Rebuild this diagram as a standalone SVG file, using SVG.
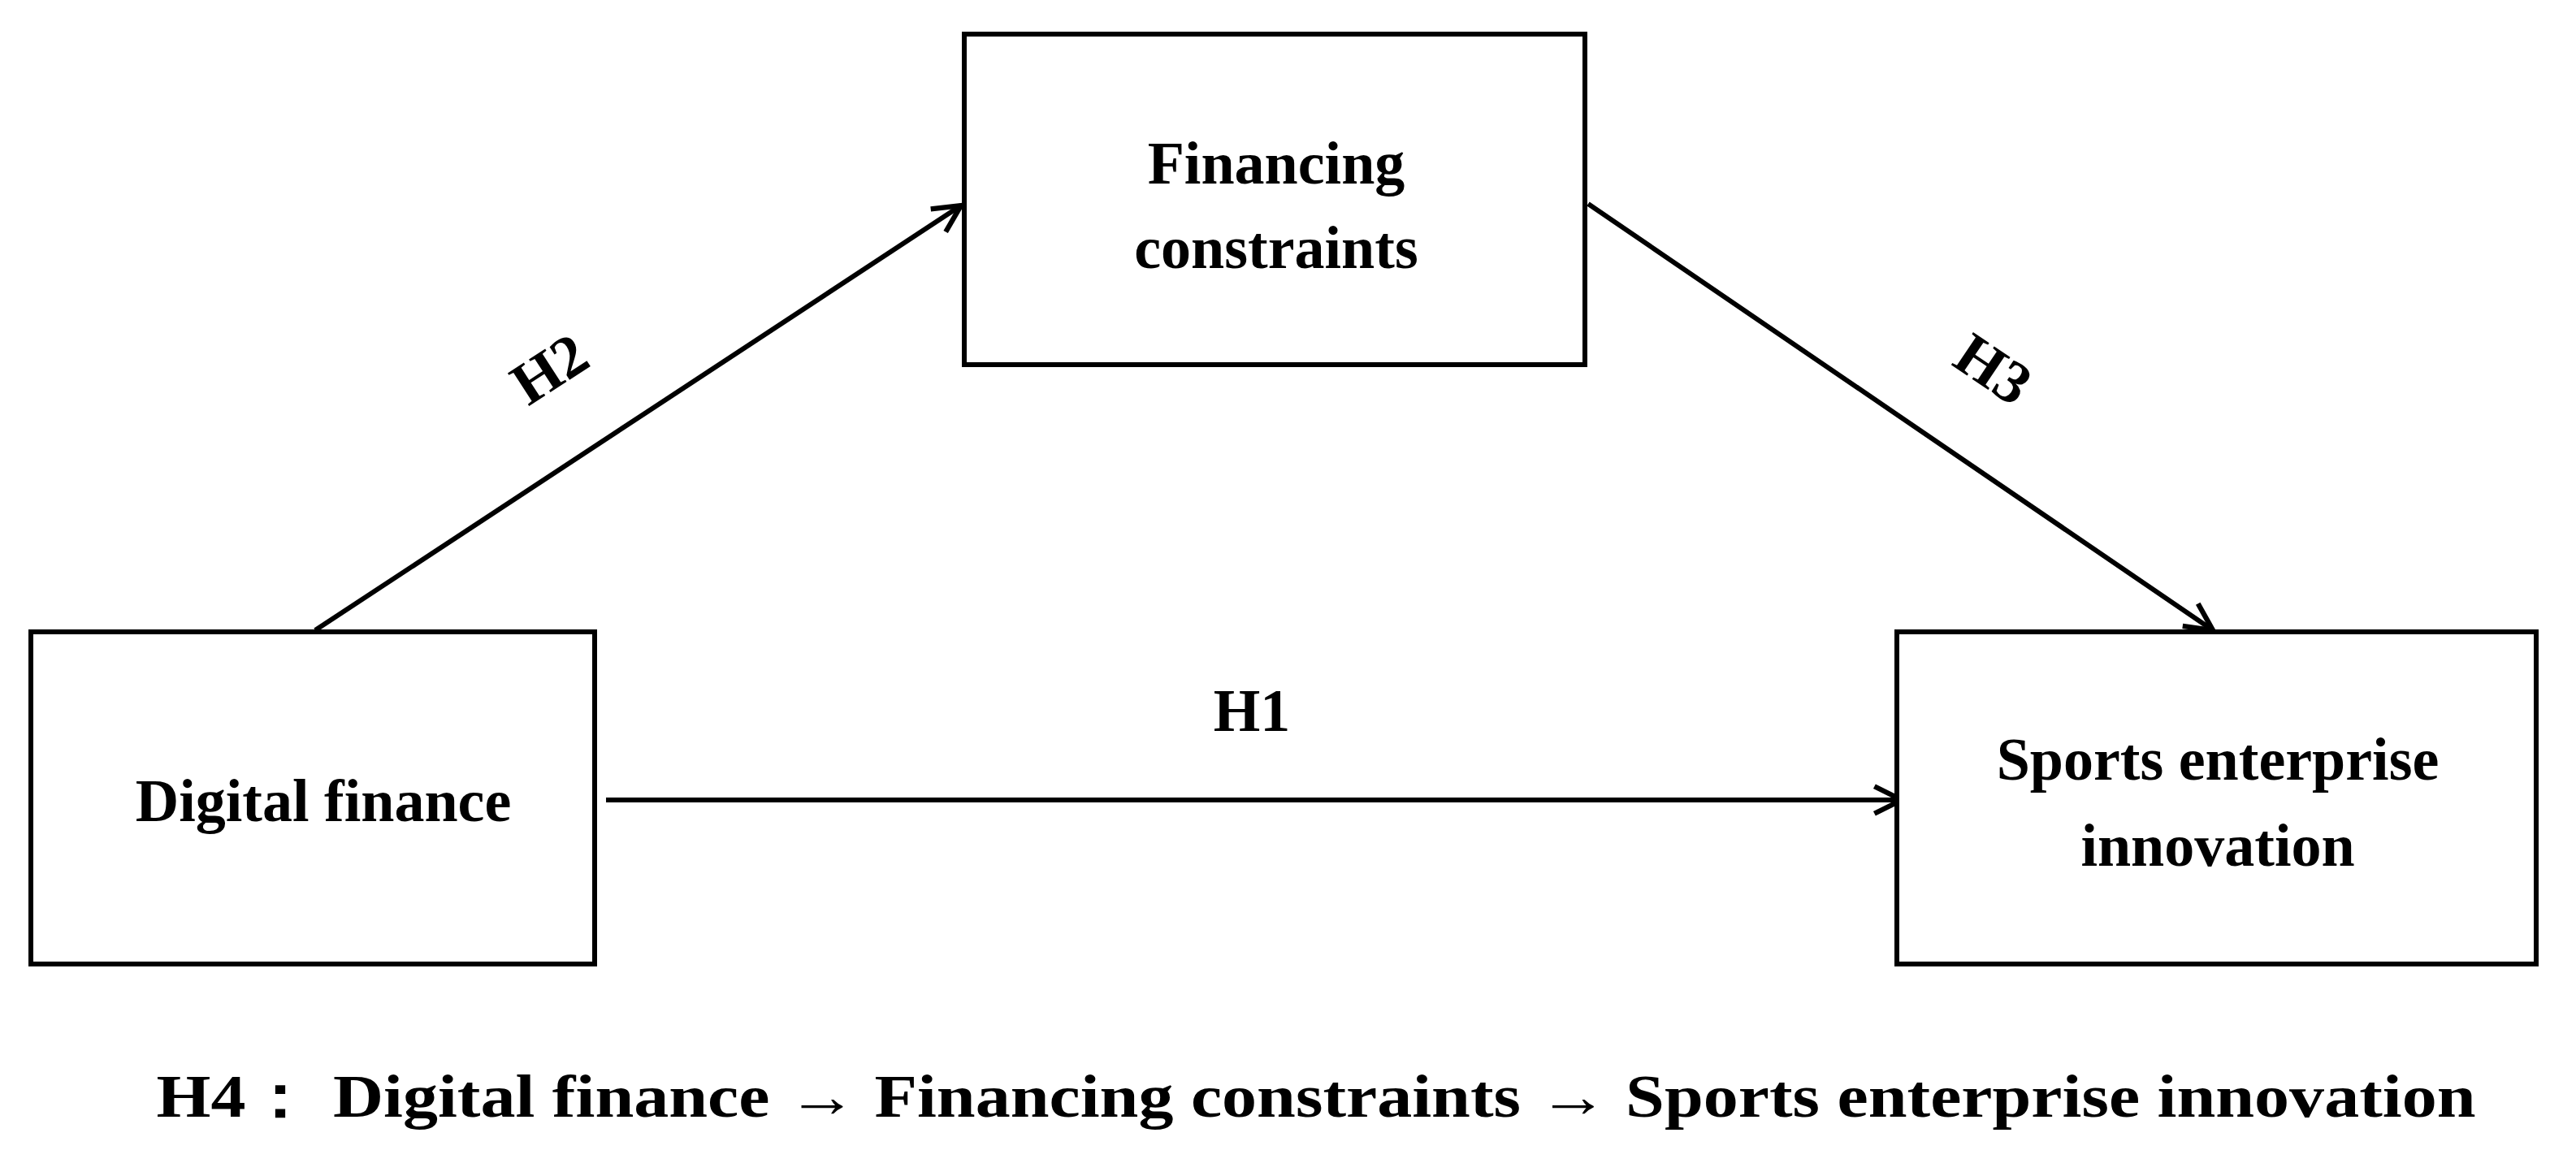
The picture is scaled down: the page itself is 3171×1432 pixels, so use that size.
<svg xmlns="http://www.w3.org/2000/svg" width="3171" height="1432" viewBox="0 0 3171 1432">
<style>
.box{fill:#fff;stroke:#000;stroke-width:6}
.t{font-family:"Liberation Serif","Times New Roman",serif;font-weight:bold;font-size:74px;fill:#000;text-anchor:middle}
.ln{stroke:#000;stroke-width:6;fill:none;marker-end:url(#ah)}
</style>
<defs>
<marker id="ah" viewBox="0 0 20 20" refX="18" refY="10" markerWidth="7" markerHeight="7" orient="auto" markerUnits="strokeWidth">
<path d="M2,2 L18,10 L2,18" fill="none" stroke="#000" stroke-width="3"/>
</marker>
</defs>
<rect width="3171" height="1432" fill="#fff"/>
<g id="connectors">
<line class="ln" x1="388" y1="776" x2="1183" y2="253"/>
<line class="ln" x1="1955" y1="251" x2="2724" y2="776"/>
<line class="ln" x1="746" y1="985" x2="2341" y2="985"/>
<text class="t" x="1541" y="900">H1</text>
<text class="t" transform="translate(690,475) rotate(-33)">H2</text>
<text class="t" transform="translate(2440,475) rotate(34)">H3</text>
</g>
<g id="financing">
<rect class="box" x="1187" y="42" width="764" height="407"/>
<text class="t" x="1571" y="226">Financing</text>
<text class="t" x="1571" y="330">constraints</text>
</g>
<g id="digital">
<rect class="box" x="38" y="778" width="694" height="409"/>
<text class="t" x="398" y="1011">Digital finance</text>
</g>
<g id="sports">
<rect class="box" x="2335" y="778" width="787" height="409"/>
<text class="t" x="2730" y="960">Sports enterprise</text>
<text class="t" x="2730" y="1066">innovation</text>
</g>
<text class="t" x="1620" y="1375" textLength="2855" lengthAdjust="spacingAndGlyphs">H4：  Digital finance → Financing constraints → Sports enterprise innovation</text>
</svg>
